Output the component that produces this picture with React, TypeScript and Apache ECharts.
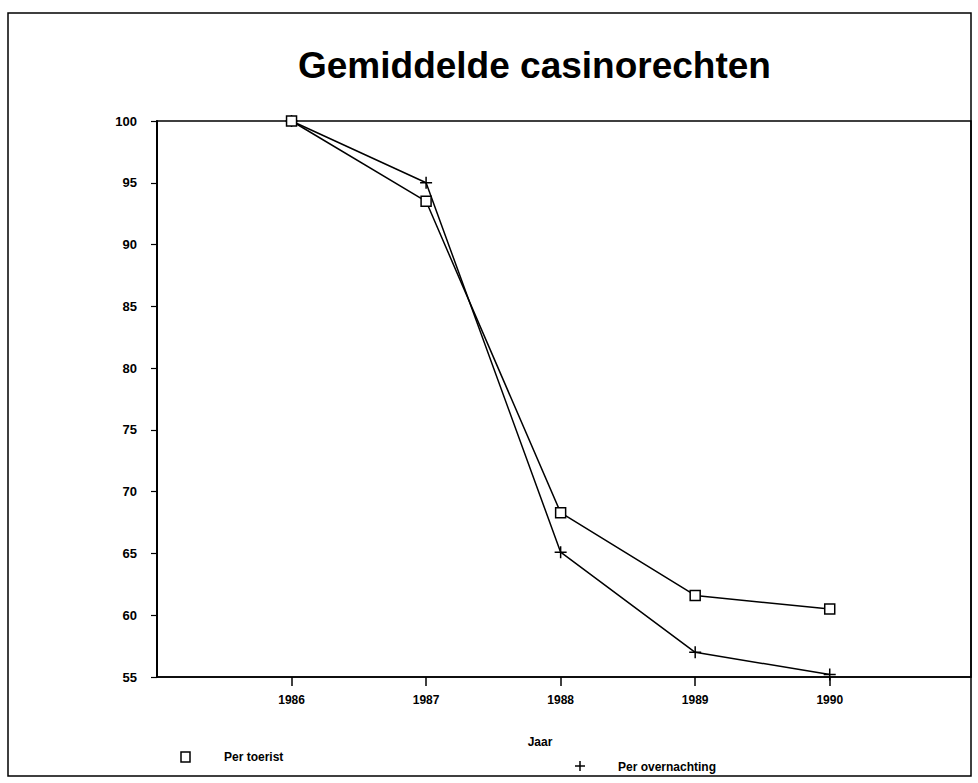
import React, { useEffect, useRef } from "react";
import * as echarts from "echarts";

const titleText = "Gemiddelde casinorechten";
const xAxisName = "Jaar";
const years = [1986, 1987, 1988, 1989, 1990];
const yTicks = [55, 60, 65, 70, 75, 80, 85, 90, 95, 100];
const seriesNames = ["Per toerist", "Per overnachting"];
const perToerist = [100, 93.5, 68.3, 61.6, 60.5];
const perOvernachting = [100, 95, 65.1, 57, 55.2];

const FONT = "'Liberation Sans', Arial, Helvetica, sans-serif";
const PLUS = "path://M5,0L5,10M0,5L10,5";

export default function App() {
  const ref = useRef<HTMLDivElement>(null);
  useEffect(() => {
    if (!ref.current) return;
    const chart = echarts.init(ref.current, null, { renderer: "svg" });
    const pairs = (ys: number[]) => years.map((y, i) => [y, ys[i]]);
    chart.setOption({
      animation: false,
      backgroundColor: "#fff",
      title: {
        text: titleText,
        left: 293,
        top: 42,
        textStyle: { fontFamily: FONT, fontSize: 37, fontWeight: "bold", color: "#000" },
      },
      grid: {
        left: 157,
        top: 121,
        right: 7,
        bottom: 106,
        show: true,
        borderColor: "#000",
        borderWidth: 1.5,
        backgroundColor: "transparent",
      },
      xAxis: {
        type: "value",
        min: 1985,
        max: 1991.05,
        splitLine: { show: false },
        axisLine: { show: true, lineStyle: { color: "#000", width: 1.5 } },
        axisTick: { show: true, customValues: years, length: 9, lineStyle: { color: "#000", width: 1.5 } },
        axisLabel: {
          customValues: years,
          formatter: (v: number) => String(v),
          margin: 17,
          fontFamily: FONT,
          fontSize: 12,
          fontWeight: "bold",
          color: "#000",
        },
      },
      yAxis: {
        type: "value",
        min: 55,
        max: 100,
        interval: 5,
        splitLine: { show: false },
        axisLine: { show: true, lineStyle: { color: "#000", width: 2 } },
        axisTick: { show: true, length: 6, lineStyle: { color: "#000", width: 1.2 } },
        axisLabel: {
          customValues: yTicks,
          margin: 20,
          fontFamily: FONT,
          fontSize: 13,
          fontWeight: "bold",
          color: "#000",
        },
      },
      series: [
        {
          name: seriesNames[0],
          type: "line",
          data: pairs(perToerist),
          symbol: "rect",
          symbolSize: [10, 10],
          lineStyle: { color: "#000", width: 1.5 },
          itemStyle: { color: "#fff", borderColor: "#000", borderWidth: 1.5 },
          z: 3,
        },
        {
          name: seriesNames[1],
          type: "line",
          data: pairs(perOvernachting),
          symbol: PLUS,
          symbolSize: 12,
          lineStyle: { color: "#000", width: 1.5 },
          itemStyle: { color: "#000", borderColor: "#000", borderWidth: 1.5 },
          z: 2,
        },
      ],
      graphic: [
        {
          type: "rect",
          shape: { x: 8, y: 13, width: 963, height: 763 },
          style: { fill: "none", stroke: "#000", lineWidth: 1.5 },
          z: 0,
        },
        {
          type: "text",
          x: 540,
          y: 742,
          style: {
            text: xAxisName,
            font: `bold 12px ${FONT}`,
            fill: "#000",
            textAlign: "center",
            textVerticalAlign: "middle",
          },
        },
        {
          type: "rect",
          shape: { x: 181, y: 752, width: 9, height: 10 },
          style: { fill: "none", stroke: "#000", lineWidth: 1.5 },
        },
        {
          type: "text",
          x: 224,
          y: 757,
          style: {
            text: seriesNames[0],
            font: `bold 12px ${FONT}`,
            fill: "#000",
            textVerticalAlign: "middle",
          },
        },
        {
          type: "line",
          shape: { x1: 575, y1: 766, x2: 585, y2: 766 },
          style: { stroke: "#000", lineWidth: 1.5 },
        },
        {
          type: "line",
          shape: { x1: 580, y1: 761, x2: 580, y2: 771 },
          style: { stroke: "#000", lineWidth: 1.5 },
        },
        {
          type: "text",
          x: 618,
          y: 767,
          style: {
            text: seriesNames[1],
            font: `bold 12px ${FONT}`,
            fill: "#000",
            textVerticalAlign: "middle",
          },
        },
      ],
    });
    return () => chart.dispose();
  }, []);
  return (
    <div
      ref={ref}
      style={{ position: "absolute", left: 0, top: 0, width: 978, height: 783 }}
    />
  );
}
